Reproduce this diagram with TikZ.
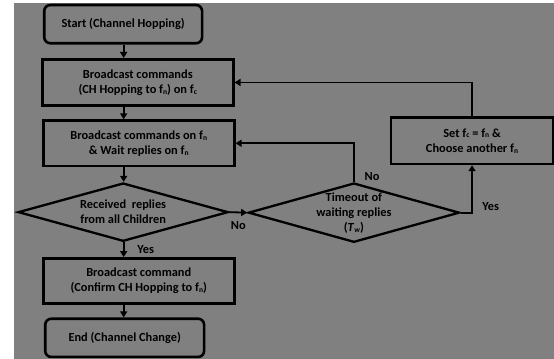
\documentclass[tikz,border=0pt]{standalone}
\usepackage{fontspec}
\setmainfont{Carlito}
\usetikzlibrary{arrows.meta,shapes.geometric}
\newcommand{\sbs}[1]{\raisebox{-0.15ex}{\fontsize{7.5}{8}\selectfont #1}}
\begin{document}
\begin{tikzpicture}[x=1pt,y=-1pt,
  font=\bfseries\fontsize{12.3}{15}\selectfont,
  box/.style={draw=black,line width=2.6pt,rectangle,align=center,inner sep=0pt},
  rbox/.style={box,rounded corners=6pt},
  dia/.style={draw=black,line width=2.3pt,diamond,inner sep=0pt,aspect=3.6},
  txt/.style={align=center,inner sep=0pt},
  arr/.style={draw=black,line width=1.8pt,-{Triangle[length=6pt,width=7pt]}},
  lbl/.style={inner sep=1pt}]
\useasboundingbox (0,0) rectangle (551,357);
\fill[white] (0,0) rectangle (551,357);
\fill[fill={rgb,255:red,128;green,128;blue,128}] (14,3) rectangle (551,357);
% nodes
\node[rbox,minimum width=157pt,minimum height=38pt] (start) at (122.5,24) {Start (Channel Hopping)};
\node[box,minimum width=190pt,minimum height=46pt] (b2) at (137,82) {Broadcast commands\\(CH Hopping to f\sbs{n}) on f\sbs{c}};
\node[box,minimum width=190pt,minimum height=45pt] (b3) at (138,142.5) {Broadcast commands on f\sbs{n}\\\& Wait replies on f\sbs{n}};
\node[dia,minimum width=209pt,minimum height=58pt] (d1) at (122.5,211) {};
\node[txt] (d1t) at (d1) {Received\ \ replies\\from all Children};
\node[dia,minimum width=210pt,minimum height=59pt] (d2) at (352,211.5) {};
\node[txt] (d2t) at (352,212) {Timeout of\\waiting replies\\(\textit{T}\sbs{\textit{w}})};
\node[box,minimum width=161pt,minimum height=46pt] (set) at (469.5,140) {Set f\sbs{c} = f\sbs{n} \&\\Choose another f\sbs{n}};
\node[box,minimum width=190pt,minimum height=45pt] (b4) at (138,279.5) {Broadcast command\\(Confirm CH Hopping to f\sbs{n})};
\node[rbox,minimum width=158pt,minimum height=38pt] (end) at (124,336) {End (Channel Change)};
% connectors
\coordinate (col) at (123,0);
\draw[arr] (start.south -| col) -- (b2.north -| col);
\draw[arr] (b2.south -| col) -- (b3.north -| col);
\draw[arr] (b3.south -| col) -- (d1.north -| col);
\draw[arr] (d1.south -| col) -- (b4.north -| col);
\draw[arr] (b4.south -| col) -- (end.north -| col);
\draw[arr] (d1.east) -- (d2.west);
\draw[arr] (d2.north) |- (b3.east);
\draw[arr] (d2.east) -| (set.south);
\draw[arr] (set.north) |- (b2.east);
% labels
\node[lbl] (yes1) at (145,248) {Yes};
\node[lbl] (no1) at (237,224) {No};
\node[lbl] (no2) at (370,176) {No};
\node[lbl] (yes2) at (488,205) {Yes};
\end{tikzpicture}
\end{document}
